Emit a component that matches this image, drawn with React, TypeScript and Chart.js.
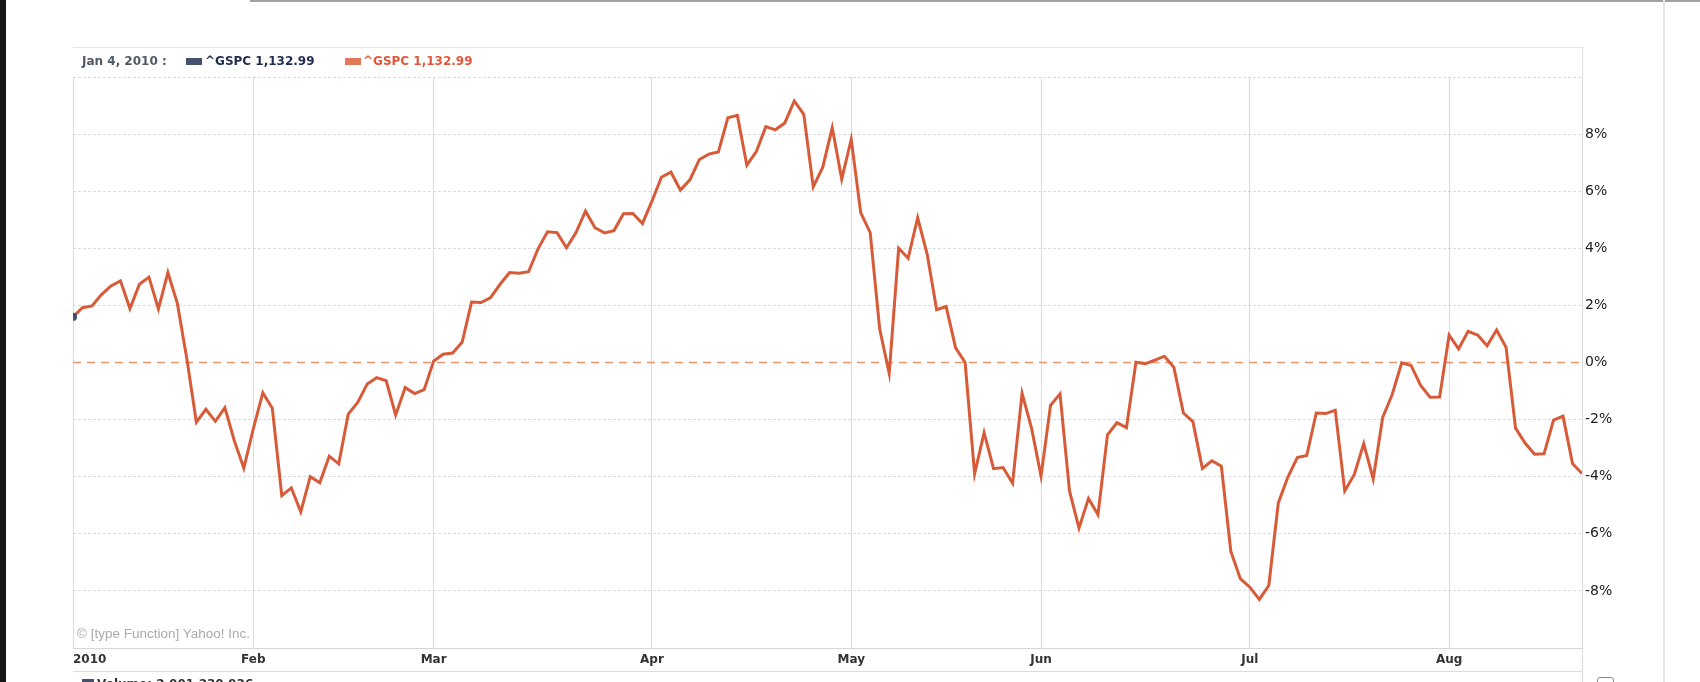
import React, { useEffect, useRef } from 'react';
import { Chart, registerables } from 'chart.js';

Chart.register(...registerables);

// ^GSPC, % change, one value per trading day (Jan 4 – Aug 20, 2010)
const pctJan = [1.60, 1.92, 1.98, 2.38, 2.68, 2.86, 1.89, 2.74, 2.99, 1.88, 3.15, 2.06, 0.12, -2.09, -1.64, -2.06, -1.58, -2.74, -3.70];
const pctFeb = [-2.32, -1.06, -1.60, -4.66, -4.39, -5.23, -4.00, -4.21, -3.28, -3.55, -1.81, -1.40, -0.75, -0.53, -0.64, -1.84, -0.88, -1.09, -0.95];
const pctMar = [0.05, 0.29, 0.33, 0.71, 2.12, 2.10, 2.27, 2.74, 3.15, 3.13, 3.18, 3.98, 4.58, 4.55, 4.02, 4.55, 5.30, 4.72, 4.54, 4.62, 5.21, 5.22, 4.87];
const pctApr = [5.65, 6.49, 6.67, 6.04, 6.40, 7.11, 7.30, 7.37, 8.57, 8.66, 6.91, 7.39, 8.26, 8.15, 8.39, 9.16, 8.69, 6.15, 6.84, 8.22, 6.42];
const pctMay = [7.82, 5.25, 4.55, 1.17, -0.38, 4.00, 3.65, 5.07, 3.80, 1.85, 1.96, 0.51, 0.00, -3.90, -2.46, -3.72, -3.68, -4.23, -1.08, -2.30];
const pctJun = [-3.98, -1.50, -1.10, -4.50, -5.80, -4.76, -5.33, -2.53, -2.11, -2.28, 0.01, -0.04, 0.08, 0.22, -0.17, -1.77, -2.07, -3.71, -3.44, -3.63, -6.62, -7.57];
const pctJul = [-7.87, -8.30, -7.81, -4.92, -4.02, -3.33, -3.26, -1.77, -1.79, -1.67, -4.50, -3.93, -2.84, -4.08, -1.92, -1.12, -0.01, -0.11, -0.80, -1.22, -1.21];
const pctAug = [0.96, 0.48, 1.09, 0.96, 0.59, 1.14, 0.53, -2.30, -2.82, -3.21, -3.20, -2.02, -1.88, -3.54, -3.89];

const months = [pctJan, pctFeb, pctMar, pctApr, pctMay, pctJun, pctJul, pctAug];
const monthLabels = ['2010', 'Feb', 'Mar', 'Apr', 'May', 'Jun', 'Jul', 'Aug'];
const yMin = -10;
const yMax = 10;
const yStep = 2;

const legendDate = 'Jan 4, 2010 :';
const legendName = '^GSPC';
const legendValue = '1,132.99';
const copyright = '© [type Function] Yahoo! Inc.';
const volumeText = 'Volume: 2,001,230,936';

const LINE = '#d75b38';
const ZERO = '#e9966f';
const GRID = 'rgba(205,208,216,0.75)';

export default function App() {
  const ref = useRef<HTMLCanvasElement>(null);

  useEffect(() => {
    const series: number[] = ([] as number[]).concat(...months);
    const monthIdx: number[] = [];
    let acc = 0;
    months.forEach((m) => { monthIdx.push(acc); acc += m.length; });
    const last = series.length - 1;
    const tickIdx = [...monthIdx, last];

    const chart = new Chart(ref.current as HTMLCanvasElement, {
      type: 'line',
      data: {
        datasets: [
          {
            data: series.map((y, i) => ({ x: i, y })),
            borderColor: LINE,
            borderWidth: 3,
            pointRadius: 0,
            tension: 0,
            order: 2,
          },
          {
            data: [{ x: 0, y: 0 }, { x: last, y: 0 }],
            borderColor: ZERO,
            borderWidth: 1.5,
            borderDash: [8, 6],
            pointRadius: 0,
            order: 3,
          },
          {
            data: [{ x: 0, y: series[0] }],
            showLine: false,
            pointStyle: 'rectRounded',
            pointRadius: 4,
            backgroundColor: '#45516f',
            borderColor: '#45516f',
            order: 1,
          },
        ],
      },
      options: {
        responsive: false,
        animation: false,
        layout: { padding: { left: 73, top: 77, right: 58, bottom: 12 } },
        plugins: { legend: { display: false }, tooltip: { enabled: false } },
        scales: {
          x: {
            type: 'linear',
            min: 0,
            max: last,
            afterBuildTicks: (ax: any) => {
              ax.ticks = tickIdx.map((v) => ({ value: v }));
            },
            afterFit: (s: any) => {
              s.height = 22;
              s.paddingLeft = 0;
              s.paddingRight = 0;
            },
            ticks: {
              autoSkip: false,
              align: 'inner',
              maxRotation: 0,
              minRotation: 0,
              padding: 5,
              color: '#333',
              font: { family: 'DejaVu Sans', size: 12, weight: 'bold' },
              callback: (v: any) => {
                const k = monthIdx.indexOf(Number(v));
                return k >= 0 ? monthLabels[k] : '';
              },
            },
            grid: { drawTicks: false, color: GRID, lineWidth: 1 },
            border: { color: '#d6d6d6' },
          },
          y: {
            position: 'right',
            min: yMin,
            max: yMax,
            afterFit: (s: any) => {
              s.width = 60;
              s.paddingTop = 0;
              s.paddingBottom = 0;
            },
            ticks: {
              stepSize: yStep,
              padding: 3,
              color: '#222',
              font: { family: 'DejaVu Sans', size: 14 },
              callback: (v: any) => (v <= yMin || v >= yMax ? '' : v + '%'),
            },
            grid: {
              drawTicks: false,
              color: (ctx: any) => (ctx.tick && ctx.tick.value === 0 ? 'rgba(0,0,0,0)' : GRID),
              lineWidth: 1,
            },
            border: { color: '#d8d8d8', dash: [3, 2] },
          },
        },
      },
    } as any);
    return () => chart.destroy();
  }, []);

  const abs = (s: React.CSSProperties): React.CSSProperties => ({ position: 'absolute', ...s });
  const legendFont: React.CSSProperties = {
    fontFamily: 'DejaVu Sans',
    fontSize: 12,
    fontWeight: 'bold',
    lineHeight: '14px',
    whiteSpace: 'nowrap',
  };

  return (
    <div style={{ position: 'fixed', left: 0, top: 0, width: 1700, height: 682, background: '#fff', overflow: 'hidden' }}>
      <canvas ref={ref} width={1700} height={682} style={{ position: 'absolute', left: 0, top: 0, width: 1700, height: 682 }} />
      {/* scan edges */}
      <div style={abs({ left: 0, top: 0, width: 6, height: 682, background: '#171717' })} />
      <div style={abs({ left: 250, top: 0, width: 1450, height: 2, background: '#a0a0a0' })} />
      <div style={abs({ left: 1663, top: 0, width: 2, height: 682, background: '#e6e6e6' })} />
      {/* legend strip */}
      <div style={abs({ left: 73, top: 47, width: 1509, height: 0, borderTop: '1px solid #e4e4e4' })} />
      <div style={abs({ left: 1582, top: 47, width: 0, height: 30, borderLeft: '1px solid #e0e0e0' })} />
      <div style={abs({ left: 82, top: 54, ...legendFont, color: '#505868' })}>{legendDate}</div>
      <div style={abs({ left: 186, top: 58, width: 16, height: 7, background: '#44506e' })} />
      <div style={abs({ left: 205, top: 54, ...legendFont, color: '#1e2a52' })}>{legendName}&nbsp;{legendValue}</div>
      <div style={abs({ left: 345, top: 58, width: 16, height: 7, background: '#e2775a' })} />
      <div style={abs({ left: 363, top: 54, ...legendFont, color: '#e0573a' })}>{legendName}&nbsp;{legendValue}</div>
      {/* copyright */}
      <div style={abs({ left: 77, top: 626, fontFamily: 'Liberation Sans', fontSize: 13.5, color: '#aaa', whiteSpace: 'nowrap' })}>{copyright}</div>
      {/* bottom strip */}
      <div style={abs({ left: 73, top: 671, width: 1509, height: 0, borderTop: '1px solid #dcdcdc' })} />
      <div style={abs({ left: 1582, top: 648, width: 0, height: 34, borderLeft: '1px solid #dcdcdc' })} />
      <div style={abs({ left: 82, top: 679, width: 12, height: 8, background: '#44506e' })} />
      <div style={abs({ left: 97, top: 677, ...legendFont, color: '#333' })}>{volumeText}</div>
      <div style={abs({ left: 1597, top: 677, width: 15, height: 12, border: '1px solid #888', borderRadius: 3 })} />
    </div>
  );
}
